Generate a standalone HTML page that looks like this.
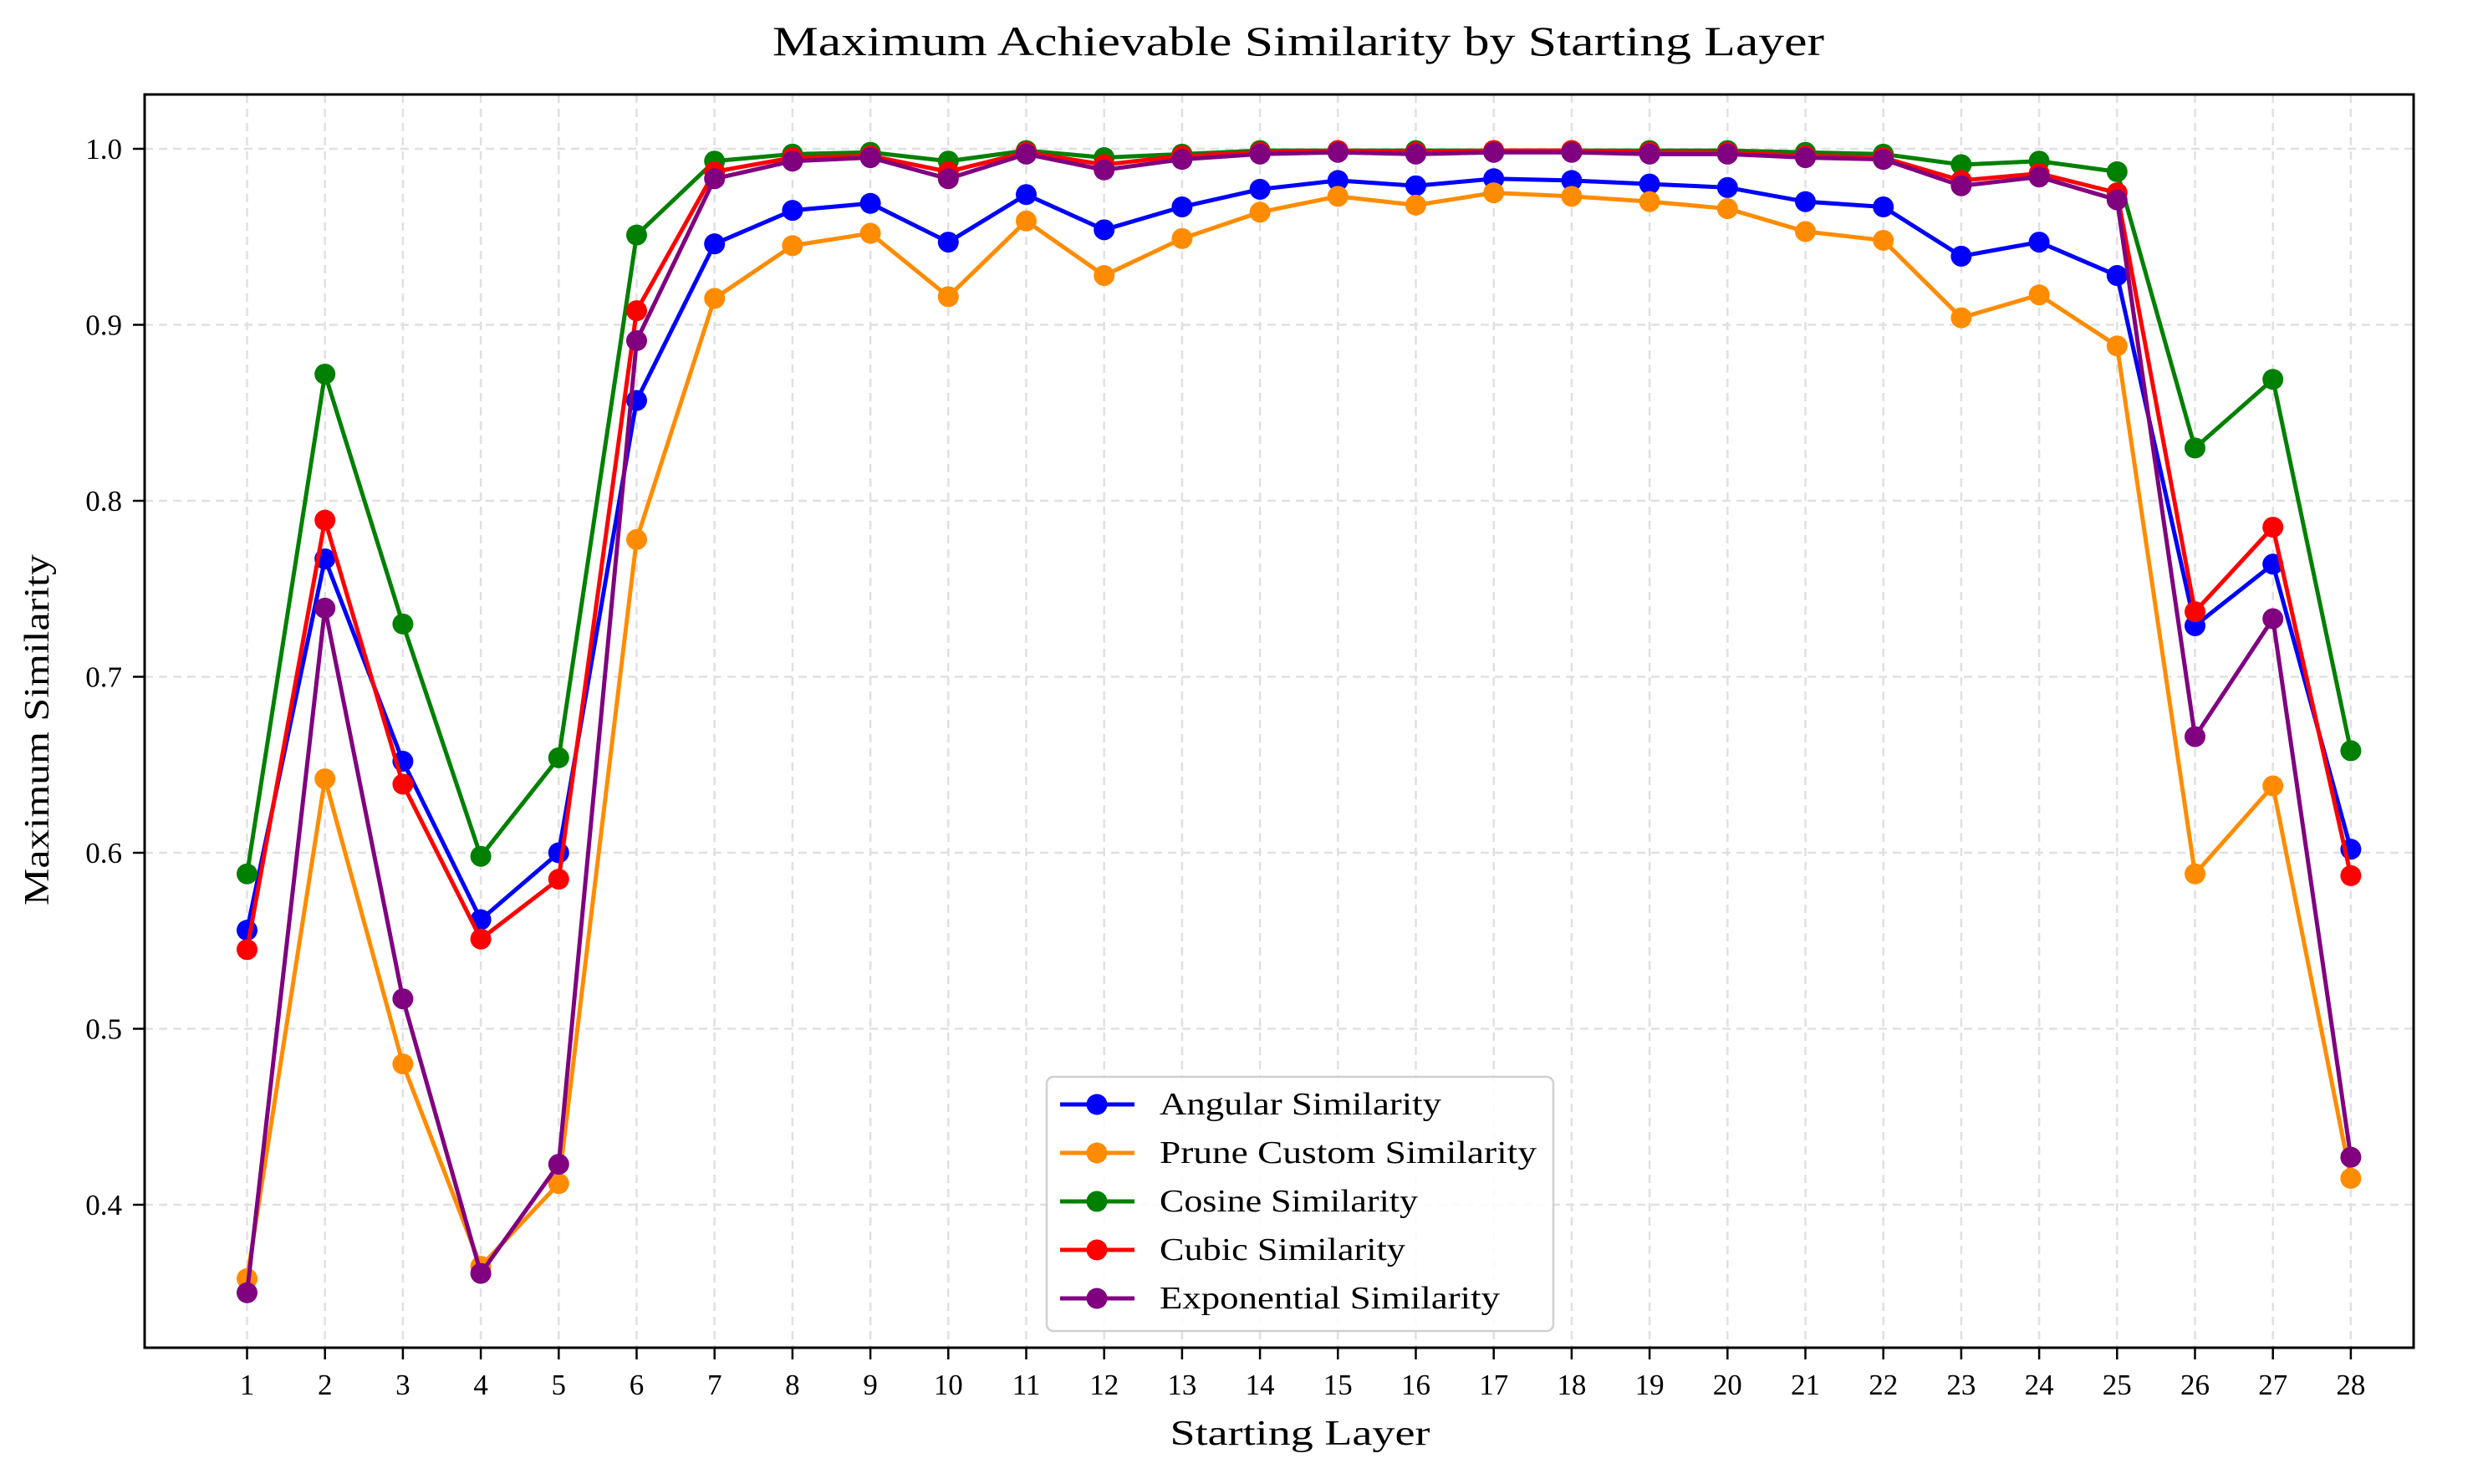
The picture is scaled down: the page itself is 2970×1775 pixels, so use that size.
<!DOCTYPE html>
<html><head><meta charset="utf-8"><style>
html,body{margin:0;padding:0;background:#fff;}
svg text{font-family:"Liberation Serif","DejaVu Serif",serif;fill:#000;}
</style></head><body>
<svg id="chart" width="2970" height="1770" xmlns="http://www.w3.org/2000/svg">
<rect width="2970" height="1770" fill="#fff"/>
<g id="grid"></g>
<g id="series"></g>
<rect x="173" y="113" width="2714" height="1499" fill="none" stroke="#000" stroke-width="3"/>
<g id="ticks"></g>
<text x="1553" y="66" font-size="50" text-anchor="middle" textLength="1258" lengthAdjust="spacingAndGlyphs">Maximum Achievable Similarity by Starting Layer</text>
<text x="1555" y="1728" font-size="42" text-anchor="middle" textLength="311" lengthAdjust="spacingAndGlyphs">Starting Layer</text>
<text x="58" y="873" font-size="42" text-anchor="middle" textLength="420" lengthAdjust="spacingAndGlyphs" transform="rotate(-90 58 873)">Maximum Similarity</text>
<g id="legend"></g>
</svg>
<script>
const layers = [1,2,3,4,5,6,7,8,9,10,11,12,13,14,15,16,17,18,19,20,21,22,23,24,25,26,27,28];
const angular = [0.556,0.767,0.652,0.562,0.600,0.857,0.946,0.965,0.969,0.947,0.974,0.954,0.967,0.977,0.982,0.979,0.983,0.982,0.980,0.978,0.970,0.967,0.939,0.947,0.928,0.729,0.764,0.602];
const prune = [0.358,0.642,0.480,0.365,0.412,0.778,0.915,0.945,0.952,0.916,0.959,0.928,0.949,0.964,0.973,0.968,0.975,0.973,0.970,0.966,0.953,0.948,0.904,0.917,0.888,0.588,0.638,0.415];
const cosine = [0.588,0.872,0.730,0.598,0.654,0.951,0.993,0.997,0.998,0.993,0.999,0.995,0.997,0.999,0.999,0.999,0.999,0.999,0.999,0.999,0.998,0.997,0.991,0.993,0.987,0.830,0.869,0.658];
const cubic = [0.545,0.789,0.639,0.551,0.585,0.908,0.987,0.995,0.996,0.987,0.998,0.991,0.996,0.998,0.999,0.998,0.999,0.999,0.998,0.998,0.996,0.995,0.982,0.986,0.975,0.737,0.785,0.587];
const exponential = [0.350,0.739,0.517,0.361,0.423,0.891,0.983,0.993,0.995,0.983,0.997,0.988,0.994,0.997,0.998,0.997,0.998,0.998,0.997,0.997,0.995,0.994,0.979,0.984,0.971,0.666,0.733,0.427];
const yTicks = [0.4,0.5,0.6,0.7,0.8,0.9,1.0];
const yTickLabels = ["0.4","0.5","0.6","0.7","0.8","0.9","1.0"];
const seriesNames = ["Angular Similarity","Prune Custom Similarity","Cosine Similarity","Cubic Similarity","Exponential Similarity"];
const seriesColors = ["#0000ff","#ff8c00","#008000","#ff0000","#800080"];
const legendTextLen = [337,451,309,294,407];

const NS="http://www.w3.org/2000/svg";
function xs(v){return 295.5+(v-1)*93.2;}
function ys(v){return 178+(1.0-v)*2105;}
function mk(tag,attrs,parent){const e=document.createElementNS(NS,tag);for(const k in attrs)e.setAttribute(k,attrs[k]);parent.appendChild(e);return e;}
const grid=document.getElementById('grid'),ticks=document.getElementById('ticks'),ser=document.getElementById('series'),leg=document.getElementById('legend');
layers.forEach((l,i)=>{
  const x=xs(l);
  const g=mk('line',{x1:x,x2:x,y1:113,y2:1612,stroke:'#e0e0e0','stroke-width':2.5,'stroke-dasharray':'10,7'},grid);
  
  
  const t=mk('line',{x1:x,x2:x,y1:1612,y2:1626,stroke:'#000','stroke-width':2.5},ticks);
  
  
  const tx=mk('text',{x:x,y:1668,'font-size':35,'text-anchor':'middle'},ticks);
  tx.textContent=String(l);
  
  
});
yTicks.forEach((v,i)=>{
  const y=ys(v);
  const g=mk('line',{x1:173,x2:2887,y1:y,y2:y,stroke:'#e0e0e0','stroke-width':2.5,'stroke-dasharray':'10,7'},grid);
  
  
  const t=mk('line',{x1:159,x2:173,y1:y,y2:y,stroke:'#000','stroke-width':2.5},ticks);
  
  
  const tx=mk('text',{x:146,y:y+12,'font-size':35,'text-anchor':'end'},ticks);
  tx.textContent=yTickLabels[i];
  
  
});
const allSeries=[angular,prune,cosine,cubic,exponential];
allSeries.forEach((vals,si)=>{
  const g=mk('g',{},ser);
  
  
  const pts=vals.map((v,i)=>xs(layers[i])+','+ys(v)).join(' ');
  const pl=mk('polyline',{points:pts,fill:'none',stroke:seriesColors[si],'stroke-width':5,'stroke-linejoin':'round'},g);
  
  
  vals.forEach((v,i)=>{
    const c=mk('circle',{cx:xs(layers[i]),cy:ys(v),r:12.5,fill:seriesColors[si]},g);
    
    
  });
});
const lb=mk('rect',{x:1252,y:1288,width:606,height:304,rx:8,fill:'#fff','fill-opacity':0.85,stroke:'#d0d0d0','stroke-width':2.5},leg);


const legY=[1321,1379,1437,1495,1553];
seriesNames.forEach((n,i)=>{
  const g=mk('g',{},leg);
  
  
  mk('line',{x1:1268,x2:1357,y1:legY[i],y2:legY[i],stroke:seriesColors[i],'stroke-width':5},g);
  mk('circle',{cx:1312,cy:legY[i],r:12.5,fill:seriesColors[i]},g);
  const t=mk('text',{x:1387,y:legY[i]+12,'font-size':38,textLength:legendTextLen[i],lengthAdjust:'spacingAndGlyphs'},g);
  t.textContent=n;
});
</script>
</body></html>
